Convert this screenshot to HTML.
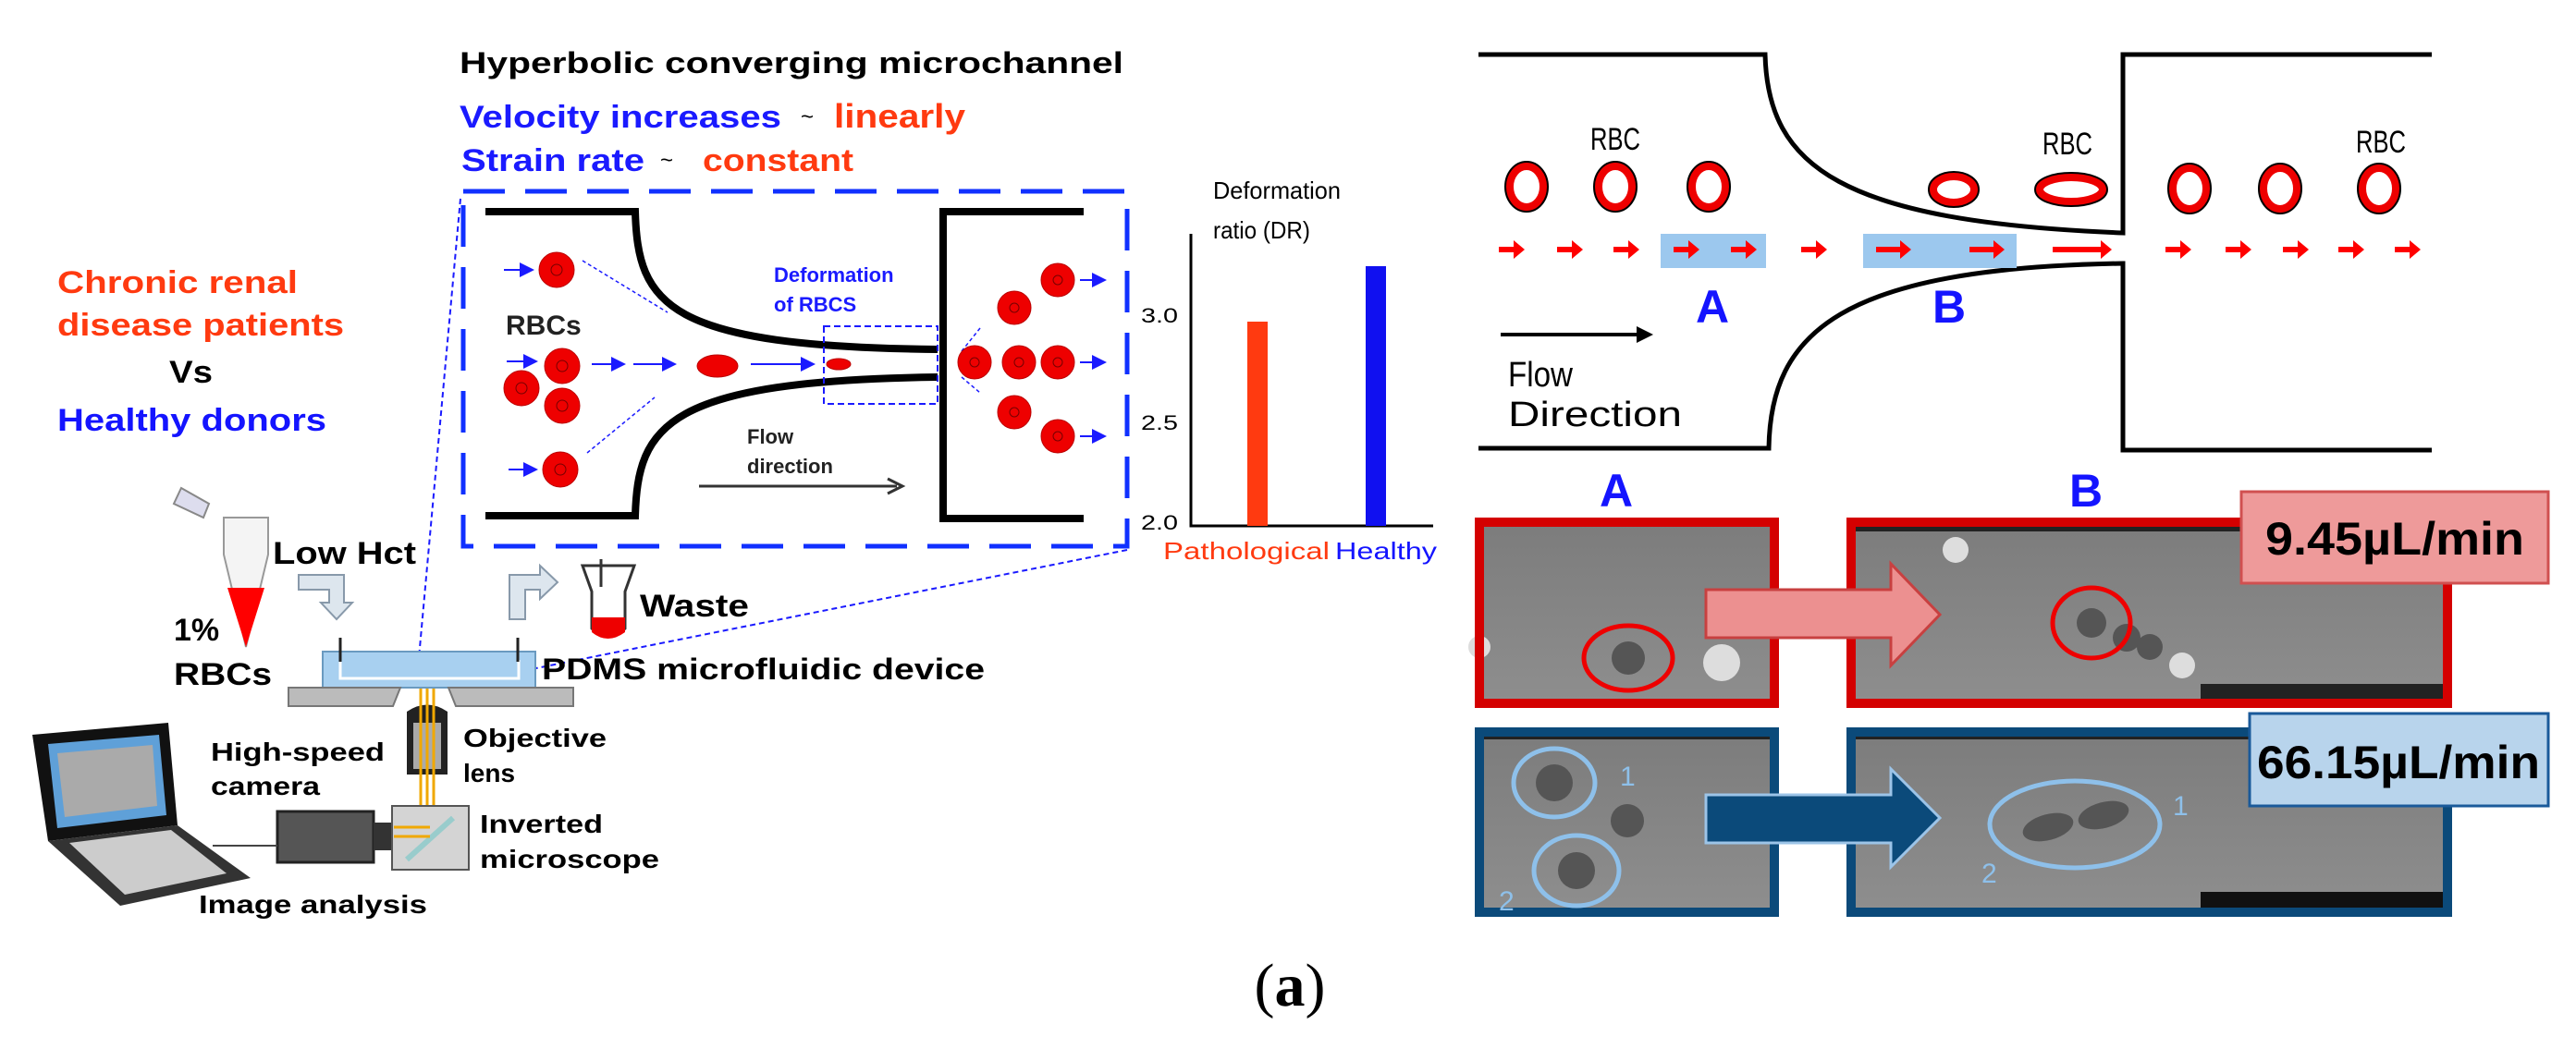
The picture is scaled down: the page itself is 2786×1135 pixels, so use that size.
<!DOCTYPE html>
<html><head><meta charset="utf-8"><style>html,body{margin:0;padding:0;background:#fff}svg{display:block}</style></head>
<body>
<svg width="2786" height="1135" viewBox="0 0 2786 1135" xmlns="http://www.w3.org/2000/svg" font-family="Liberation Sans, sans-serif">
<defs>
<linearGradient id="ph" x1="0" y1="0" x2="0" y2="1"><stop offset="0" stop-color="#7c7c7c"/><stop offset="1" stop-color="#8e8e8e"/></linearGradient>
<marker id="bh" markerWidth="8" markerHeight="8" refX="7" refY="4" orient="auto"><path d="M0,0 L8,4 L0,8z" fill="#1a1aff"/></marker>
</defs>
<text x="497" y="79" font-size="32" font-weight="bold" textLength="718" lengthAdjust="spacingAndGlyphs">Hyperbolic converging microchannel</text>
<text x="497" y="138" font-size="34" font-weight="bold" fill="#1a1aff" textLength="348" lengthAdjust="spacingAndGlyphs">Velocity increases</text>
<text x="866" y="134" font-size="24">~</text>
<text x="902" y="138" font-size="36" font-weight="bold" fill="#ff3a10" textLength="142" lengthAdjust="spacingAndGlyphs">linearly</text>
<text x="499" y="185" font-size="34" font-weight="bold" fill="#1a1aff" textLength="198" lengthAdjust="spacingAndGlyphs">Strain rate</text>
<text x="714" y="181" font-size="24">~</text>
<text x="760" y="185" font-size="34" font-weight="bold" fill="#ff3a10" textLength="163" lengthAdjust="spacingAndGlyphs">constant</text>

<text x="62" y="317" font-size="34" font-weight="bold" fill="#ff3a10" textLength="260" lengthAdjust="spacingAndGlyphs">Chronic renal</text>
<text x="62" y="363" font-size="34" font-weight="bold" fill="#ff3a10" textLength="310" lengthAdjust="spacingAndGlyphs">disease patients</text>
<text x="183" y="414" font-size="34" font-weight="bold" textLength="47" lengthAdjust="spacingAndGlyphs">Vs</text>
<text x="62" y="466" font-size="34" font-weight="bold" fill="#1414ff" textLength="291" lengthAdjust="spacingAndGlyphs">Healthy donors</text>

<rect x="501" y="207" width="718" height="384" fill="none" stroke="#1030ff" stroke-width="5" stroke-dasharray="45 22"/>
<line x1="498" y1="215" x2="453" y2="712" stroke="#1a1aff" stroke-width="2" stroke-dasharray="6 4"/>
<line x1="1219" y1="595" x2="485" y2="742" stroke="#1a1aff" stroke-width="2" stroke-dasharray="6 4"/>

<path d="M525,229 H687 C690,330 720,375 1014,378" fill="none" stroke="#000" stroke-width="8"/>
<path d="M525,558 H687 C690,460 720,412 1014,408" fill="none" stroke="#000" stroke-width="8"/>
<path d="M1172,229 H1020 V561 H1172" fill="none" stroke="#000" stroke-width="8"/>
<rect x="891" y="353" width="123" height="84" fill="none" stroke="#1a1aff" stroke-width="2" stroke-dasharray="7 4"/>
<text x="837" y="305" font-size="22" font-weight="bold" fill="#1a1aff">Deformation</text>
<text x="837" y="337" font-size="22" font-weight="bold" fill="#1a1aff">of RBCS</text>
<text x="547" y="362" font-size="30" font-weight="bold" fill="#222">RBCs</text>
<text x="808" y="480" font-size="22" font-weight="bold" fill="#222">Flow</text>
<text x="808" y="512" font-size="22" font-weight="bold" fill="#222">direction</text>
<line x1="756" y1="526" x2="970" y2="526" stroke="#333" stroke-width="3"/>
<path d="M960,518 L976,526 L960,534" fill="none" stroke="#333" stroke-width="3"/>
<g stroke="#1a1aff" stroke-width="2" marker-end="url(#bh)">
<line x1="545" y1="292" x2="576" y2="292"/><line x1="548" y1="391" x2="580" y2="391"/><line x1="550" y1="508" x2="580" y2="508"/>
<line x1="640" y1="394" x2="675" y2="394"/><line x1="685" y1="394" x2="730" y2="394"/><line x1="812" y1="394" x2="880" y2="394"/>
<line x1="1168" y1="303" x2="1195" y2="303"/><line x1="1168" y1="392" x2="1195" y2="392"/><line x1="1168" y1="472" x2="1195" y2="472"/>
</g>
<g stroke="#1a1aff" stroke-width="1.5" stroke-dasharray="4 3"><line x1="630" y1="282" x2="722" y2="338"/><line x1="635" y1="490" x2="708" y2="430"/><line x1="1040" y1="380" x2="1060" y2="355"/><line x1="1040" y1="408" x2="1060" y2="425"/></g>
<g fill="#e00" stroke="#b00" stroke-width="1">
<circle cx="602" cy="292" r="19"/><circle cx="608" cy="396" r="19"/><circle cx="564" cy="420" r="19"/><circle cx="608" cy="439" r="19"/><circle cx="606" cy="508" r="19"/>
<ellipse cx="776" cy="396" rx="22" ry="12"/><ellipse cx="907" cy="394" rx="13" ry="6"/>
<circle cx="1144" cy="303" r="18"/><circle cx="1097" cy="333" r="18"/><circle cx="1054" cy="392" r="18"/><circle cx="1102" cy="392" r="18"/><circle cx="1144" cy="392" r="18"/><circle cx="1097" cy="446" r="18"/><circle cx="1144" cy="472" r="18"/>
</g>
<g fill="none" stroke="#700" stroke-width="1"><circle cx="602" cy="292" r="6"/><circle cx="608" cy="396" r="6"/><circle cx="564" cy="420" r="6"/><circle cx="608" cy="439" r="6"/><circle cx="606" cy="508" r="6"/><circle cx="1144" cy="303" r="5"/><circle cx="1097" cy="333" r="5"/><circle cx="1054" cy="392" r="5"/><circle cx="1102" cy="392" r="5"/><circle cx="1144" cy="392" r="5"/><circle cx="1097" cy="446" r="5"/><circle cx="1144" cy="472" r="5"/></g>

<text x="1312" y="215" font-size="26" textLength="138" lengthAdjust="spacingAndGlyphs">Deformation</text>
<text x="1312" y="258" font-size="26" textLength="105" lengthAdjust="spacingAndGlyphs">ratio (DR)</text>
<path d="M1288,253 V569 H1550" fill="none" stroke="#000" stroke-width="3"/>
<text x="1234" y="349" font-size="22" textLength="40" lengthAdjust="spacingAndGlyphs">3.0</text>
<text x="1234" y="465" font-size="22" textLength="40" lengthAdjust="spacingAndGlyphs">2.5</text>
<text x="1234" y="573" font-size="22" textLength="40" lengthAdjust="spacingAndGlyphs">2.0</text>
<rect x="1349" y="348" width="22" height="221" fill="#ff3a10"/>
<rect x="1477" y="288" width="22" height="281" fill="#1010f0"/>
<text x="1258" y="605" font-size="26" fill="#ff3a10" textLength="180" lengthAdjust="spacingAndGlyphs">Pathological</text>
<text x="1444" y="605" font-size="26" fill="#1414ff" textLength="110" lengthAdjust="spacingAndGlyphs">Healthy</text>

<path d="M196,528 L226,545 L220,560 L188,545z" fill="#dde" stroke="#888" stroke-width="2"/>
<path d="M242,560 H290 V600 L266,700 L242,600z" fill="#f4f4f4" stroke="#999" stroke-width="2"/>
<path d="M246,636 H286 L266,700z" fill="#f00"/>
<text x="295" y="610" font-size="34" font-weight="bold" textLength="155" lengthAdjust="spacingAndGlyphs">Low Hct</text>
<text x="188" y="693" font-size="34" font-weight="bold">1%</text>
<text x="188" y="741" font-size="34" font-weight="bold" textLength="106" lengthAdjust="spacingAndGlyphs">RBCs</text>
<path d="M323,622 H372 V652 H381 L364,670 L347,652 H356 V638 H323z" fill="#dde6ee" stroke="#8899aa" stroke-width="2"/>
<path d="M551,670 V622 H584 V612 L603,630 L584,648 V638 H568 V670z" fill="#dde6ee" stroke="#8899aa" stroke-width="2"/>
<path d="M630,612 H686 L676,640 V680 Q657,698 640,680 V640z" fill="#fff" stroke="#333" stroke-width="3"/>
<path d="M640,668 H676 V684 Q657,698 640,684z" fill="#e00"/>
<line x1="650" y1="605" x2="650" y2="635" stroke="#333" stroke-width="3"/>
<text x="692" y="667" font-size="34" font-weight="bold" textLength="118" lengthAdjust="spacingAndGlyphs">Waste</text>
<rect x="349" y="705" width="230" height="39" fill="#a8d0f0" stroke="#6a9ac0" stroke-width="2"/>
<path d="M368,714 V734 H561 V714" fill="none" stroke="#fff" stroke-width="3"/>
<line x1="368" y1="690" x2="368" y2="716" stroke="#222" stroke-width="3"/><line x1="560" y1="690" x2="560" y2="716" stroke="#222" stroke-width="3"/>
<path d="M312,744 H433 L425,764 H312z M485,744 H620 V764 H493z" fill="#bbb" stroke="#777" stroke-width="2"/>
<text x="586" y="735" font-size="32" font-weight="bold" textLength="479" lengthAdjust="spacingAndGlyphs">PDMS microfluidic device</text>
<path d="M440,770 Q462,755 484,770 V838 H440z" fill="#222"/>
<rect x="447" y="782" width="30" height="50" fill="#aaa"/>
<g stroke="#f0a800" stroke-width="3"><line x1="455" y1="745" x2="455" y2="920"/><line x1="462" y1="745" x2="462" y2="920"/><line x1="469" y1="745" x2="469" y2="920"/><line x1="420" y1="895" x2="465" y2="895"/><line x1="420" y1="905" x2="465" y2="905"/></g>
<text x="501" y="808" font-size="28" font-weight="bold" textLength="155" lengthAdjust="spacingAndGlyphs">Objective</text>
<text x="501" y="846" font-size="28" font-weight="bold">lens</text>
<text x="228" y="823" font-size="28" font-weight="bold" textLength="188" lengthAdjust="spacingAndGlyphs">High-speed</text>
<text x="228" y="860" font-size="28" font-weight="bold" textLength="118" lengthAdjust="spacingAndGlyphs">camera</text>
<rect x="300" y="878" width="104" height="55" fill="#555" stroke="#222" stroke-width="3"/>
<rect x="404" y="890" width="20" height="30" fill="#333"/>
<rect x="424" y="872" width="83" height="69" fill="#d4d4d4" stroke="#555" stroke-width="2"/>
<line x1="440" y1="930" x2="490" y2="885" stroke="#9cc" stroke-width="6"/>
<g stroke="#f0a800" stroke-width="3"><line x1="426" y1="895" x2="465" y2="895"/><line x1="426" y1="905" x2="465" y2="905"/></g>
<text x="519" y="901" font-size="28" font-weight="bold" textLength="133" lengthAdjust="spacingAndGlyphs">Inverted</text>
<text x="519" y="939" font-size="28" font-weight="bold" textLength="194" lengthAdjust="spacingAndGlyphs">microscope</text>
<path d="M35,795 L182,782 L192,893 L52,910z" fill="#111"/>
<path d="M52,805 L172,795 L180,882 L62,896z" fill="#5fa0d8"/>
<path d="M62,815 L165,806 L170,872 L70,884z" fill="#aaa"/>
<path d="M52,910 L192,893 L271,950 L130,980 Z" fill="#333"/>
<path d="M75,912 L185,898 L245,945 L135,968z" fill="#ccc"/>
<line x1="230" y1="915" x2="300" y2="915" stroke="#444" stroke-width="2"/>
<text x="215" y="988" font-size="28" font-weight="bold" textLength="247" lengthAdjust="spacingAndGlyphs">Image analysis</text>

<path d="M1599,59 H1909 C1912,180 1990,240 2296,252 V59 H2630" fill="none" stroke="#000" stroke-width="5"/>
<path d="M1599,485 H1913 C1915,360 1990,290 2296,285 V487 H2630" fill="none" stroke="#000" stroke-width="5"/>
<rect x="1796" y="253" width="114" height="37" fill="#9cc8ee"/>
<rect x="2015" y="253" width="166" height="37" fill="#9cc8ee"/>
<g fill="#f00" stroke="none">
<path d="M-14,-3 H2 V-10 L14,0 L2,10 V3 H-14z" transform="translate(1635,270)"/>
<path d="M-14,-3 H2 V-10 L14,0 L2,10 V3 H-14z" transform="translate(1698,270)"/>
<path d="M-14,-3 H2 V-10 L14,0 L2,10 V3 H-14z" transform="translate(1759,270)"/>
<path d="M-14,-3 H2 V-10 L14,0 L2,10 V3 H-14z" transform="translate(1824,270)"/>
<path d="M-14,-3 H2 V-10 L14,0 L2,10 V3 H-14z" transform="translate(1886,270)"/>
<path d="M-14,-3 H2 V-10 L14,0 L2,10 V3 H-14z" transform="translate(1962,270)"/>
<path d="M-20,-3 H6 V-10 L18,0 L6,10 V3 H-20z" transform="translate(2049,270)"/>
<path d="M-20,-3 H6 V-10 L18,0 L6,10 V3 H-20z" transform="translate(2150,270)"/>
<path d="M-36,-3 H16 V-10 L28,0 L16,10 V3 H-36z" transform="translate(2256,270)"/>
<path d="M-14,-3 H2 V-10 L14,0 L2,10 V3 H-14z" transform="translate(2356,270)"/>
<path d="M-14,-3 H2 V-10 L14,0 L2,10 V3 H-14z" transform="translate(2421,270)"/>
<path d="M-14,-3 H2 V-10 L14,0 L2,10 V3 H-14z" transform="translate(2483,270)"/>
<path d="M-14,-3 H2 V-10 L14,0 L2,10 V3 H-14z" transform="translate(2543,270)"/>
<path d="M-14,-3 H2 V-10 L14,0 L2,10 V3 H-14z" transform="translate(2604,270)"/>
</g>
<g fill="none" stroke="#000" stroke-width="12">
<ellipse cx="1651" cy="202" rx="18" ry="22"/><ellipse cx="1747" cy="202" rx="18" ry="22"/><ellipse cx="1848" cy="202" rx="18" ry="22"/>
<ellipse cx="2113" cy="205" rx="22" ry="14"/><ellipse cx="2240" cy="205" rx="34" ry="13"/>
<ellipse cx="2368" cy="204" rx="18" ry="22"/><ellipse cx="2466" cy="204" rx="18" ry="22"/><ellipse cx="2573" cy="204" rx="18" ry="22"/>
</g>
<g fill="#fff" stroke="#e00" stroke-width="8">
<ellipse cx="1651" cy="202" rx="18" ry="22"/><ellipse cx="1747" cy="202" rx="18" ry="22"/><ellipse cx="1848" cy="202" rx="18" ry="22"/>
<ellipse cx="2113" cy="205" rx="22" ry="14"/><ellipse cx="2240" cy="205" rx="34" ry="13"/>
<ellipse cx="2368" cy="204" rx="18" ry="22"/><ellipse cx="2466" cy="204" rx="18" ry="22"/><ellipse cx="2573" cy="204" rx="18" ry="22"/>
</g>
<g font-size="34" text-anchor="middle"><text x="1747" y="162" textLength="54" lengthAdjust="spacingAndGlyphs">RBC</text><text x="2236" y="167" textLength="54" lengthAdjust="spacingAndGlyphs">RBC</text><text x="2575" y="165" textLength="54" lengthAdjust="spacingAndGlyphs">RBC</text></g>
<g font-size="50" font-weight="bold" fill="#1414ff" text-anchor="middle"><text x="1852" y="349">A</text><text x="2108" y="349">B</text><text x="1748" y="548">A</text><text x="2256" y="548">B</text></g>
<line x1="1623" y1="362" x2="1775" y2="362" stroke="#000" stroke-width="4"/>
<path d="M1770,353 L1788,362 L1770,371z" fill="#000"/>
<text x="1631" y="418" font-size="38" textLength="70" lengthAdjust="spacingAndGlyphs">Flow</text>
<text x="1631" y="461" font-size="38" textLength="188" lengthAdjust="spacingAndGlyphs">Direction</text>

<rect x="1600" y="565" width="319" height="196" fill="url(#ph)"/>
<rect x="2002" y="565" width="645" height="196" fill="url(#ph)"/>
<rect x="2002" y="565" width="645" height="10" fill="#222"/>
<rect x="2380" y="740" width="267" height="21" fill="#222"/>
<rect x="1600" y="792" width="319" height="195" fill="url(#ph)"/>
<rect x="2002" y="792" width="645" height="195" fill="url(#ph)"/>
<rect x="1600" y="792" width="319" height="8" fill="#222"/><rect x="2002" y="792" width="645" height="8" fill="#222"/>
<rect x="2380" y="965" width="267" height="22" fill="#111"/>
<g fill="#555"><circle cx="1761" cy="712" r="18"/><circle cx="2262" cy="674" r="16"/><circle cx="2300" cy="690" r="15"/><circle cx="2325" cy="700" r="14"/><circle cx="1681" cy="847" r="20"/><circle cx="1705" cy="942" r="20"/><circle cx="1760" cy="888" r="18"/><ellipse cx="2215" cy="895" rx="28" ry="14" transform="rotate(-15 2215 895)"/><ellipse cx="2275" cy="882" rx="28" ry="14" transform="rotate(-15 2275 882)"/></g>
<g fill="#ddd"><circle cx="1862" cy="717" r="20"/><circle cx="2360" cy="720" r="14"/><circle cx="2115" cy="595" r="14"/><circle cx="1600" cy="700" r="12"/></g>
<rect x="1600" y="565" width="319" height="196" fill="none" stroke="#d40000" stroke-width="10"/>
<rect x="2002" y="565" width="645" height="196" fill="none" stroke="#d40000" stroke-width="10"/>
<rect x="1600" y="792" width="319" height="195" fill="none" stroke="#0b4a7a" stroke-width="10"/>
<rect x="2002" y="792" width="645" height="195" fill="none" stroke="#0b4a7a" stroke-width="10"/>
<path d="M1845,638 H2045 V610 L2098,665 L2045,720 V690 H1845z" fill="#ec9090" stroke="#c84040" stroke-width="3"/>
<path d="M1845,860 H2045 V832 L2098,885 L2045,938 V912 H1845z" fill="#0b4a7a" stroke="#9cc4e8" stroke-width="3"/>
<g fill="none" stroke="#e00" stroke-width="5"><ellipse cx="1761" cy="712" rx="48" ry="35"/><ellipse cx="2262" cy="674" rx="42" ry="38"/></g>
<g fill="none" stroke="#8ec0ea" stroke-width="5"><ellipse cx="1681" cy="847" rx="44" ry="37"/><ellipse cx="1705" cy="942" rx="46" ry="38"/><ellipse cx="2244" cy="892" rx="92" ry="47"/></g>
<g fill="#8ec0ea" font-size="30"><text x="1752" y="850">1</text><text x="1621" y="985">2</text><text x="2350" y="882">1</text><text x="2143" y="955">2</text></g>
<rect x="2424" y="532" width="332" height="99" fill="#ee9a9a" stroke="#d05050" stroke-width="3"/>
<text x="2590" y="600" font-size="50" font-weight="bold" text-anchor="middle" textLength="280" lengthAdjust="spacingAndGlyphs">9.45µL/min</text>
<rect x="2433" y="772" width="323" height="100" fill="#b8d4ec" stroke="#1a5a9a" stroke-width="3"/>
<text x="2594" y="842" font-size="50" font-weight="bold" text-anchor="middle" textLength="306" lengthAdjust="spacingAndGlyphs">66.15µL/min</text>

<text x="1395" y="1088" font-size="66" font-family="Liberation Serif, serif" text-anchor="middle">(<tspan font-weight="bold">a</tspan>)</text>
</svg>
</body></html>
